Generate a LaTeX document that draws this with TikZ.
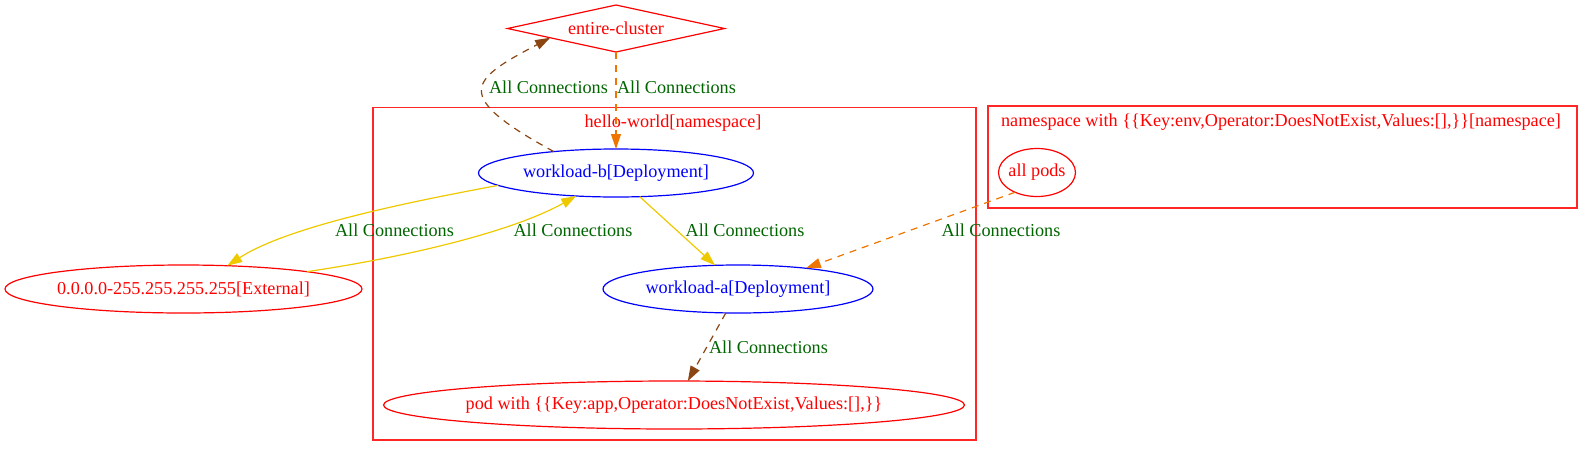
\documentclass[tikz,border=0pt]{standalone}
\usepackage{fontspec}
\setmainfont{Liberation Serif}
\usetikzlibrary{shapes.geometric,arrows.meta}
\definecolor{cred}{HTML}{FF0000}
\definecolor{cblue}{HTML}{0000FF}
\definecolor{cgreen}{HTML}{006400}
\definecolor{cbrown}{HTML}{8B4513}
\definecolor{corange}{HTML}{EE7600}
\definecolor{cgold}{HTML}{EEC900}
\newcommand\ctr[1]{\makebox[0pt]{#1}}
\begin{document}
\begin{tikzpicture}[x=1pt,y=-1pt,
  every node/.style={font=\fontsize{18.2}{22}\selectfont, inner sep=0pt, outer sep=0pt},
  ell/.style={ellipse, draw, line width=1.2pt, minimum height=48pt},
  redell/.style={ell, draw=cred, text=cred},
  blueell/.style={ell, draw=cblue, text=cblue},
  clus/.style={draw=cred!85!white, line width=1.1pt, rectangle},
  clab/.style={text=cred},
  elab/.style={text=cgreen},
  conn/.style={line width=1.2pt, -{Triangle[length=15pt,width=10pt]}},
  dsh/.style={dash pattern=on 7pt off 6pt},
]
\useasboundingbox (0,0) rectangle (1593,456);

% clusters
\node[clus, minimum width=603pt, minimum height=332.5pt] (hw) at (674.5,273.75) {};
\node[clus, minimum width=589pt, minimum height=102pt] (ns) at (1282.5,157) {};
\node[clab] (hwl) at (673,123) {hello-world[namespace]};
\node[clab] (nsl) at (1281,122) {namespace with \{\{Key:env,Operator:DoesNotExist,Values:[],\}\}[namespace]};

% nodes
\node[shape=diamond, draw=cred, text=cred, line width=1.2pt, shape aspect=4.6,
      minimum width=217pt, minimum height=47pt] (ec) at (616,28.5) {entire-cluster};
\node[redell, minimum width=357pt] (ext) at (183.5,289) {\ctr{0.0.0.0-255.255.255.255[External]}};
\node[blueell, minimum width=275pt] (wb) at (616,173) {\ctr{workload-b[Deployment]}};
\node[blueell, minimum width=270pt] (wa) at (738,289) {\ctr{workload-a[Deployment]}};
\node[redell, minimum width=581pt] (pod) at (674,405) {\ctr{pod with \{\{Key:app,Operator:DoesNotExist,Values:[],\}\}}};
\node[redell, minimum width=77pt] (ap) at (1037,172.5) {\ctr{all pods}};

% edges
\draw[conn, dsh, cbrown] (wb.161) .. controls (450,95) and (470,80) .. (ec.188);
\draw[conn, dsh, corange] (ec.south) -- (wb.north);
\draw[conn, cgold] (wb.186) .. controls (420,200) and (290,225) .. (ext.28);
\draw[conn, cgold] (ext.8) .. controls (400,258) and (510,233) .. (wb.210);
\draw[conn, cgold] (wb.315) -- (wa.134);
\draw[conn, dsh, corange] (ap.222) -- (wa.17);
\draw[conn, dsh, cbrown] (wa.243) -- (pod.60);

% edge labels
\node[elab] (l1) at (548.5,87) {All Connections};
\node[elab] (l2) at (676.5,87) {All Connections};
\node[elab] (l3) at (394.5,230) {All Connections};
\node[elab] (l4) at (573,230) {All Connections};
\node[elab] (l5) at (745,230) {All Connections};
\node[elab] (l6) at (1001,230) {All Connections};
\node[elab] (l7) at (768.5,347) {All Connections};
\end{tikzpicture}
\end{document}
